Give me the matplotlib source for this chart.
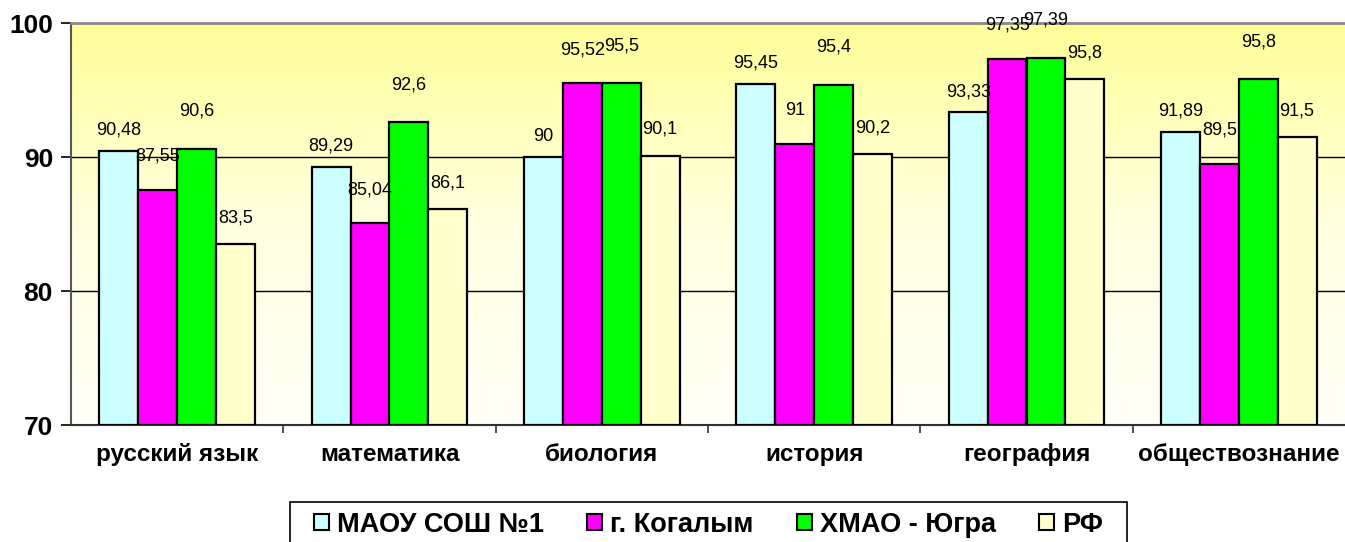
import numpy as np
import matplotlib
matplotlib.use('Agg')
from matplotlib import pyplot as plt
from matplotlib.colors import LinearSegmentedColormap
from matplotlib.patches import Patch, Rectangle

# Данные
predmety = ['русский язык', 'математика', 'биология', 'история', 'география', 'обществознание']
serii = ['МАОУ СОШ №1', 'г. Когалым', 'ХМАО - Югра', 'РФ']
maou = [90.48, 89.29, 90, 95.45, 93.33, 91.89]
kogalym = [87.55, 85.04, 95.52, 91, 97.35, 89.5]
hmao = [90.6, 92.6, 95.5, 95.4, 97.39, 95.8]
rf = [83.5, 86.1, 90.1, 90.2, 95.8, 91.5]
y_ticks = [70, 80, 90, 100]

cores = ['#CCFFFF', '#FF00FF', '#00FF00', '#FFFFCC']
# deslocamento dos rótulos (pontos) por série
desloc = [15, 24, 27, 19]

plt.rcParams['font.family'] = ['Liberation Sans', 'DejaVu Sans']

fig = plt.figure(figsize=(13.45, 5.42), dpi=100)
ax = fig.add_axes([71/1345, 117/542, 1 - 71/1345, 402/542])

# fundo em degradê
grad = LinearSegmentedColormap.from_list('g', ['#FFFFF8', '#FFFFE0', '#FFFF99'])
ax.imshow(np.linspace(0, 1, 256).reshape(-1, 1), cmap=grad, origin='lower',
          extent=[0, 1, 0, 1], transform=ax.transAxes, aspect='auto', zorder=0)

x = np.arange(len(predmety))
w = 0.183
valores = [maou, kogalym, hmao, rf]
for i, (v, c) in enumerate(zip(valores, cores)):
    pos = x + (i - 1.5) * w
    ax.bar(pos, np.array(v) - 70, bottom=70, width=w, color=c, edgecolor='black',
           linewidth=1.6, zorder=3)
    for px, val in zip(pos, v):
        ax.annotate(str(val).replace('.', ','), (px, val), xytext=(0, desloc[i]),
                    textcoords='offset points', ha='center', va='center',
                    fontsize=13, zorder=4, annotation_clip=False)

ax.set_xlim(-0.5, len(predmety) - 0.5)
ax.set_ylim(70, 100)
ax.set_yticks(y_ticks)
ax.set_yticklabels([str(t) for t in y_ticks], fontsize=19, fontweight='bold')
ax.set_xticks(x)
ax.set_xticklabels(predmety, fontsize=17.5, fontweight='bold')
ax.set_xticks(np.arange(0.5, len(predmety) - 0.5, 1), minor=True)
ax.tick_params(axis='x', which='major', length=0, pad=13)
ax.tick_params(axis='x', which='minor', length=6, width=1.2, color='#333333')
ax.tick_params(axis='y', length=7, width=1.2, pad=6)

for t in [80, 90]:
    ax.axhline(t, color='black', linewidth=1, zorder=1)

ax.spines['top'].set_color('#888888')
ax.spines['top'].set_linewidth(2)
ax.spines['left'].set_color('#555555')
ax.spines['left'].set_linewidth(1.5)
ax.spines['bottom'].set_color('#333333')
ax.spines['bottom'].set_linewidth(1.5)
ax.spines['right'].set_visible(False)

# legenda (moldura desenhada à parte)
fig.patches.append(Rectangle((290/1345, -0.02), 837/1345, 40/542 + 0.02,
                             transform=fig.transFigure, facecolor='white',
                             edgecolor='black', linewidth=1.2, zorder=0))
handles = [Patch(facecolor=c, edgecolor='black', linewidth=1.5) for c in cores]
leg = fig.legend(handles, serii, loc='center', bbox_to_anchor=(0.5268, 0.032),
                 ncol=4, frameon=False, prop={'size': 19.5, 'weight': 'bold'},
                 handlelength=0.55, handleheight=0.55, handletextpad=0.3,
                 columnspacing=1.6, borderpad=0.3, borderaxespad=0)

fig.savefig('out.png', dpi=100)
